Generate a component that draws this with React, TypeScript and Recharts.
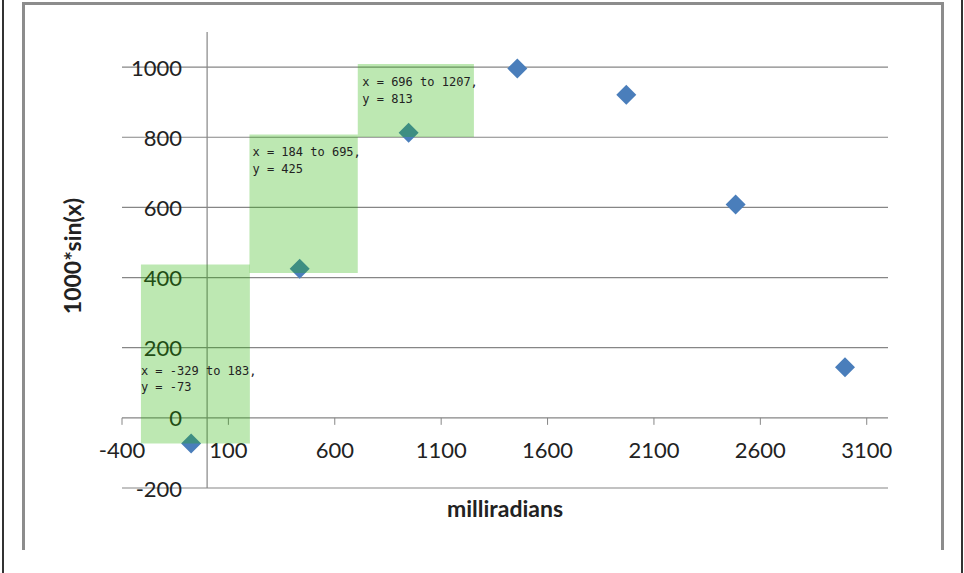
import { ReferenceArea, ReferenceDot, ReferenceLine, Scatter, ScatterChart, XAxis, YAxis } from "recharts";

// sample points
const xValues = [-75, 435, 947, 1458, 1970, 2484, 2998];
const yValues = [-73, 425, 813, 996, 921, 608, 144];

// bins named in the notes
const binFrom = [-329, 184, 696];
const binTo = [183, 695, 1207];
const binY = [-73, 425, 813];

// green boxes as drawn
const boxX1 = [-311, 199, 708];
const boxX2 = [201, 708, 1254];
const boxY1 = [-73, 413, 801];
const boxY2 = [437, 808, 1009];

const xTicks = [-400, 100, 600, 1100, 1600, 2100, 2600, 3100];
const yTicks = [-200, 0, 200, 400, 600, 800, 1000];

const points = xValues.map((x, i) => ({ x, y: yValues[i] }));

const axisColor = "#868686";
const textColor = "#222";
const labelFont = "Lato, 'Open Sans', sans-serif";

// where each note sits inside its box
const noteOffset = [
    { dx: 0, dy: 106 },
    { dx: 3, dy: 18 },
    { dx: 4.5, dy: 18 },
];

const Diamond = (props: any) => {
    const { cx, cy } = props;
    const r = 10;
    return <path d={`M${cx},${cy - r}L${cx + r},${cy}L${cx},${cy + r}L${cx - r},${cy}Z`} fill="#4a7ebb" />;
};

const makeNote = (i: number) => (props: any) => {
    const vb = props.viewBox;
    if (!vb) return null;
    const x = vb.x + noteOffset[i].dx;
    const y = vb.y + noteOffset[i].dy;
    return (
        <text x={x} y={y} fontFamily="'DejaVu Sans Mono', monospace" fontSize={12} fill={textColor} dominantBaseline="central">
            <tspan x={x} y={y}>{`x = ${binFrom[i]} to ${binTo[i]},`}</tspan>
            <tspan x={x} y={y + 16.7}>{`y = ${binY[i]}`}</tspan>
        </text>
    );
};

const xTickShape = (value: number) => (props: any) => {
    const { cx, cy } = props;
    return (
        <g>
            <line x1={cx} y1={cy} x2={cx} y2={cy + 7} stroke={axisColor} />
            <text x={cx} y={cy + 32} textAnchor="middle" dominantBaseline="central" fontFamily={labelFont} fontSize={22} fill={textColor}>
                {value}
            </text>
        </g>
    );
};

const yTickShape = (value: number) => (props: any) => {
    const { cx, cy } = props;
    return (
        <text x={cx - 25} y={cy} textAnchor="end" dominantBaseline="central" fontFamily={labelFont} fontSize={22} fill={textColor}>
            {value}
        </text>
    );
};

const titleStyle = {
    position: "absolute" as const,
    fontFamily: labelFont,
    fontSize: 23,
    fontWeight: "bold" as const,
    color: textColor,
    whiteSpace: "nowrap" as const,
    lineHeight: 1,
};

export default function App() {
    return (
        <div style={{ position: "absolute", left: 0, top: 0, width: 964, height: 573, background: "#fff", overflow: "hidden" }}>
            <div style={{ position: "absolute", left: 2, top: 0, width: 2, height: 573, background: "#333" }} />
            <div style={{ position: "absolute", left: 961, top: 0, width: 2, height: 573, background: "#333" }} />
            <div
                style={{
                    position: "absolute",
                    left: 22,
                    top: 2,
                    width: 922,
                    height: 548,
                    boxSizing: "border-box",
                    border: "3px solid #8c8c8c",
                    borderBottom: "none",
                }}
            />
            <div style={{ position: "absolute", left: 0, top: 0 }}>
                <ScatterChart width={964} height={573} margin={{ top: 32, right: 76, bottom: 85, left: 122 }}>
                    <XAxis
                        type="number"
                        dataKey="x"
                        domain={[-400, 3200]}
                        ticks={xTicks}
                        height={0}
                        axisLine={false}
                        tickLine={false}
                        tick={false}
                    />
                    <YAxis
                        type="number"
                        dataKey="y"
                        domain={[-200, 1100]}
                        ticks={yTicks}
                        width={0}
                        axisLine={false}
                        tickLine={false}
                        tick={false}
                    />
                    {yTicks.map((t) => (
                        <ReferenceLine key={`g${t}`} y={t} stroke={axisColor} strokeWidth={1.2} />
                    ))}
                    <ReferenceLine x={0} stroke={axisColor} strokeWidth={1.2} />
                    {xTicks.map((t) => (
                        <ReferenceDot key={`xt${t}`} x={t} y={0} shape={xTickShape(t)} />
                    ))}
                    {yTicks.map((t) => (
                        <ReferenceDot key={`yt${t}`} x={0} y={t} shape={yTickShape(t)} />
                    ))}
                    <Scatter data={points} shape={Diamond} isAnimationActive={false} />
                    {boxX1.map((x1, i) => (
                        <ReferenceArea
                            key={`box${i}`}
                            x1={x1}
                            x2={boxX2[i]}
                            y1={boxY1[i]}
                            y2={boxY2[i]}
                            fill="rgb(35,178,0)"
                            fillOpacity={0.3}
                            stroke="none"
                            zIndex={700}
                            label={makeNote(i)}
                        />
                    ))}
                </ScatterChart>
            </div>
            <div style={{ ...titleStyle, left: 505, top: 508, transform: "translate(-50%, -50%)" }}>milliradians</div>
            <div style={{ ...titleStyle, left: 72, top: 256, transform: "translate(-50%, -50%) rotate(-90deg)" }}>1000*sin(x)</div>
        </div>
    );
}
